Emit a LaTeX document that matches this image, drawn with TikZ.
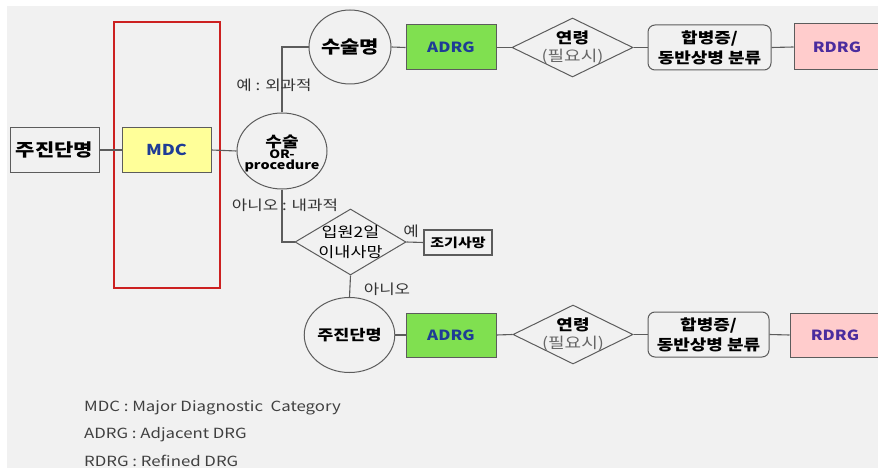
\documentclass[tikz,border=0pt]{standalone}
\usepackage{fontspec}
\setmainfont[FakeStretch=1.2]{Noto Sans CJK KR}
\usetikzlibrary{shapes.geometric}
\definecolor{bg}{HTML}{F1F1F1}
\definecolor{edge}{HTML}{5C5C5C}
\definecolor{yel}{HTML}{FFFF99}
\definecolor{grn}{HTML}{80E050}
\definecolor{pnk}{HTML}{FFCCCC}
\definecolor{redb}{HTML}{CC2020}
\definecolor{txtblue}{HTML}{1E3C96}
\definecolor{txtpur}{HTML}{4B2C9E}
\definecolor{lbltxt}{HTML}{333333}
\begin{document}
\begin{tikzpicture}[x=1pt,y=-1pt,
  basebox/.style={draw=edge, line width=1pt, inner sep=0pt, align=center},
  ell/.style={ellipse, draw=edge, line width=1pt, inner sep=0pt},
  dia/.style={diamond, draw=edge, line width=1pt, inner sep=0pt},
  conn/.style={draw=edge, line width=1.1pt},
  txt/.style={inner sep=0pt, align=center},
  lbl/.style={inner sep=0pt, text=lbltxt, font=\fontsize{14}{16}\selectfont},
  legend/.style={inner sep=0pt, anchor=west, text=black!75, font=\fontsize{14}{16}\selectfont}]
\useasboundingbox (0,0) rectangle (878,468);
\clip (0,0) rectangle (878,468);
\fill[white] (0,0) rectangle (878,468);
\fill[bg] (7,6) rectangle (878,468);

% red frame
\node[draw=redb, line width=2.2pt, minimum width=106pt, minimum height=266pt, inner sep=0pt] (frame) at (167,155) {};

% left chain
\node[basebox, minimum width=89pt, minimum height=44pt, font=\fontsize{17.5}{20}\selectfont\bfseries] (jd1) at (54.5,150) {주진단명};
\node[basebox, fill=yel, minimum width=89pt, minimum height=44pt, text=txtblue, font=\fontsize{15}{18}\selectfont\bfseries] (mdc) at (166.5,150) {MDC};
\node[ell, minimum width=90pt, minimum height=76pt] (op) at (282,151) {};
\node[txt] (optext) at (282,153) {{\fontsize{15}{16}\selectfont\bfseries 수술}\\[-1pt]{\fontsize{11.5}{13}\selectfont\bfseries OR-}\\[-1pt]{\fontsize{12}{13}\selectfont\bfseries procedure}};

% top branch
\node[ell, minimum width=80pt, minimum height=74pt, font=\fontsize{17.5}{20}\selectfont\bfseries] (opname) at (350,47) {수술명};
\node[basebox, fill=grn, minimum width=90pt, minimum height=45pt, text=txtblue, font=\fontsize{14}{16}\selectfont\bfseries] (adrg1) at (451,47.5) {ADRG};
\node[dia, minimum width=121pt, minimum height=59pt] (age1) at (572.5,47.5) {};
\node[txt, font=\fontsize{15}{18}\selectfont] (age1t) at (572.5,48) {\textbf{연령}\\{\color{black!60}(필요시)}};
\node[basebox, rounded corners=7pt, minimum width=123pt, minimum height=45pt, font=\fontsize{15}{20}\selectfont\bfseries] (comp1) at (709.5,47.5) {합병증/\\동반상병 분류};
\node[basebox, fill=pnk, minimum width=86pt, minimum height=46pt, text=txtpur, font=\fontsize{14}{16}\selectfont\bfseries] (rdrg1) at (837,47) {RDRG};

% lower branch
\node[dia, minimum width=111pt, minimum height=66pt] (death) at (350.5,242) {};
\node[txt, font=\fontsize{14.5}{20}\selectfont] (deatht) at (350.5,242) {입원2일\\이내사망};
\node[basebox, line width=1.2pt, minimum width=68pt, minimum height=25pt, font=\fontsize{12.5}{14}\selectfont\bfseries] (early) at (458,242.5) {조기사망};
\node[ell, minimum width=81pt, minimum height=75pt, font=\fontsize{14.5}{16}\selectfont\bfseries] (jd2) at (349.5,335) {주진단명};
\node[basebox, fill=grn, minimum width=90pt, minimum height=44pt, text=txtblue, font=\fontsize{14}{16}\selectfont\bfseries] (adrg2) at (451,335) {ADRG};
\node[dia, minimum width=120pt, minimum height=59pt] (age2) at (573,334.5) {};
\node[txt, font=\fontsize{15}{18}\selectfont] (age2t) at (573,335) {\textbf{연령}\\{\color{black!60}(필요시)}};
\node[basebox, rounded corners=7pt, minimum width=121pt, minimum height=45pt, font=\fontsize{15}{20}\selectfont\bfseries] (comp2) at (708.5,334.5) {합병증/\\동반상병 분류};
\node[basebox, fill=pnk, minimum width=90pt, minimum height=44pt, text=txtpur, font=\fontsize{14}{16}\selectfont\bfseries] (rdrg2) at (835,335) {RDRG};

% connectors
\draw[conn] (jd1.east) -- (mdc.west);
\draw[conn] (mdc.east) -- (op.west);
\draw[conn] (op.north) |- (opname.west);
\draw[conn] (op.south) |- (death.west);
\draw[conn] (opname.east) -- (adrg1.west);
\draw[conn] (adrg1.east) -- (age1.west);
\draw[conn] (age1.east) -- (comp1.west);
\draw[conn] (comp1.east) -- (rdrg1.west);
\draw[conn] (death.east) -- (early.west);
\draw[conn] (death.south) -- (jd2.north);
\draw[conn] (jd2.east) -- (adrg2.west);
\draw[conn] (adrg2.east) -- (age2.west);
\draw[conn] (age2.east) -- (comp2.west);
\draw[conn] (comp2.east) -- (rdrg2.west);

% labels
\node[lbl] (yes1) at (274,85) {예 : 외과적};
\node[lbl] (no1) at (285,205) {아니오 : 내과적};
\node[lbl] (yes2) at (411,231) {예};
\node[lbl] (no2) at (387,289) {아니오};

% legend
\node[legend] (lg1) at (84,408) {MDC : Major Diagnostic \ Category};
\node[legend] (lg2) at (84,435) {ADRG : Adjacent DRG};
\node[legend] (lg3) at (84,461) {RDRG : Refined DRG};
\end{tikzpicture}
\end{document}
